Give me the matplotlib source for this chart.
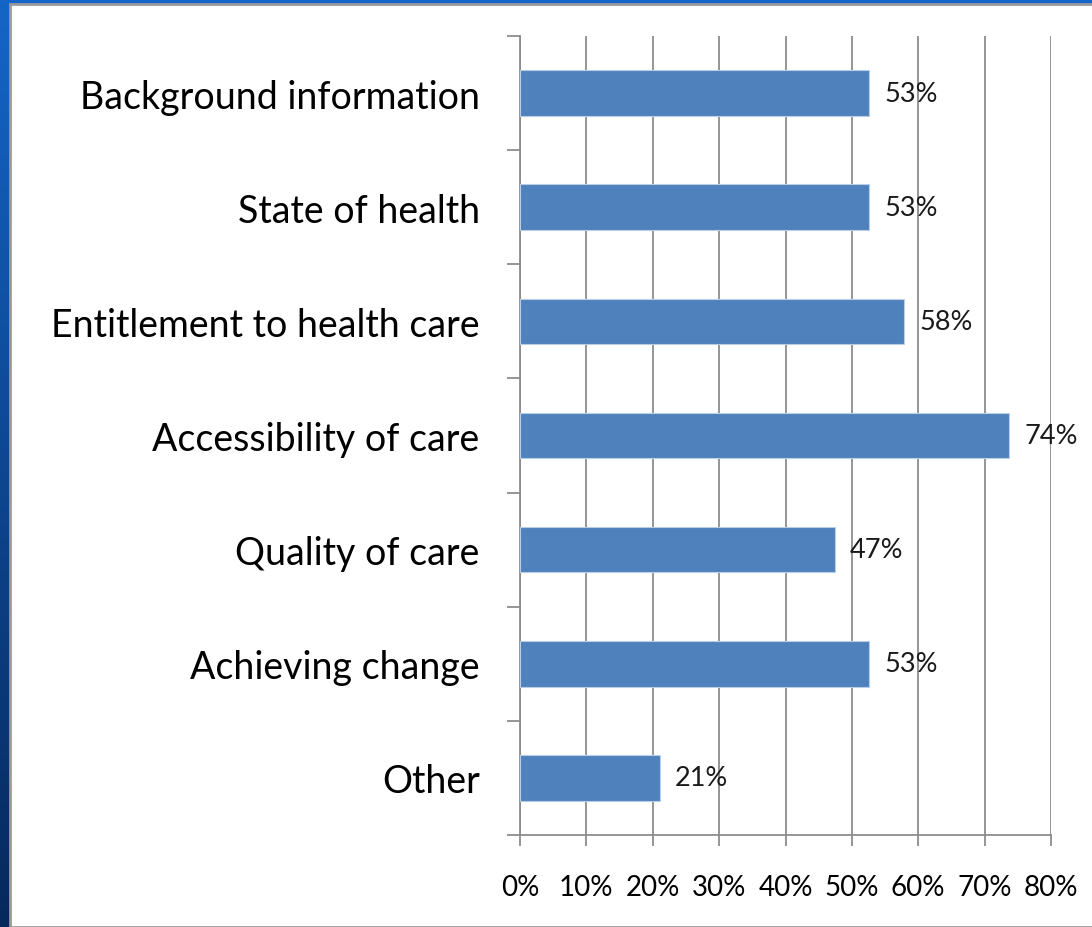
import numpy as np
import matplotlib.pyplot as plt
from matplotlib.patches import Rectangle
from matplotlib.colors import LinearSegmentedColormap

# survey topics, top to bottom, and share of respondents covering each
topics = ["Background information", "State of health", "Entitlement to health care",
          "Accessibility of care", "Quality of care", "Achieving change", "Other"]
shares = [0.526, 0.526, 0.579, 0.737, 0.474, 0.526, 0.211]
x_ticks = [0.0, 0.1, 0.2, 0.3, 0.4, 0.5, 0.6, 0.7, 0.8]

BAR_COLOR = "#4F81BD"
GRID_COLOR = "#8c8c8c"
FONT = "Lato"

fig = plt.figure(figsize=(10.92, 9.28), dpi=100)

# slide frame: blue backdrop with a white panel on top
bg = fig.add_axes([0, 0, 1, 1], zorder=-2)
grad = np.linspace(0, 1, 256).reshape(-1, 1)
bg.imshow(grad, aspect="auto", extent=[0, 1, 0, 1], origin="lower",
          cmap=LinearSegmentedColormap.from_list("slide", ["#06295c", "#1565c8"]))
bg.add_patch(Rectangle((10 / 1092, 0), 1, 1 - 5 / 928, facecolor="white",
                       edgecolor="#9a9a9a", linewidth=2, transform=bg.transAxes))
bg.set_xlim(0, 1)
bg.set_ylim(0, 1)
bg.axis("off")

ax = fig.add_axes([520 / 1092, 1 - 836 / 928, (1051 - 520) / 1092, (836 - 37) / 928])
ax.set_facecolor("none")

y = np.arange(len(topics))
ax.barh(y, shares, height=0.4, color=BAR_COLOR, edgecolor="#b9cde5",
        linewidth=0.8, zorder=3)

for yi, v in zip(y, shares):
    ax.text(v + 0.063, yi, "{:.0%}".format(v), va="center", ha="center",
            fontsize=19.5, family=FONT, color="#1a1a1a", zorder=4)

ax.set_xlim(0, 0.8)
ax.set_ylim(len(topics) - 0.5, -0.5)

ax.set_xticks(x_ticks)
ax.set_xticklabels(["{:.0%}".format(t) for t in x_ticks], family=FONT, fontsize=20)
ax.xaxis.grid(True, color=GRID_COLOR, linewidth=1.3, zorder=0)
ax.tick_params(axis="x", length=8, width=1.3, color=GRID_COLOR, pad=20)

ax.set_yticks(y)
ax.set_yticklabels(topics, family=FONT, fontsize=27)
ax.tick_params(axis="y", which="major", length=0, pad=29)
ax.set_yticks(np.arange(len(topics) + 1) - 0.5, minor=True)
ax.tick_params(axis="y", which="minor", length=9.5, width=1.3, color=GRID_COLOR)

for side in ["top", "right"]:
    ax.spines[side].set_visible(False)
for side in ["left", "bottom"]:
    ax.spines[side].set_color(GRID_COLOR)
    ax.spines[side].set_linewidth(1.3)

fig.savefig("out.png", dpi=100)
